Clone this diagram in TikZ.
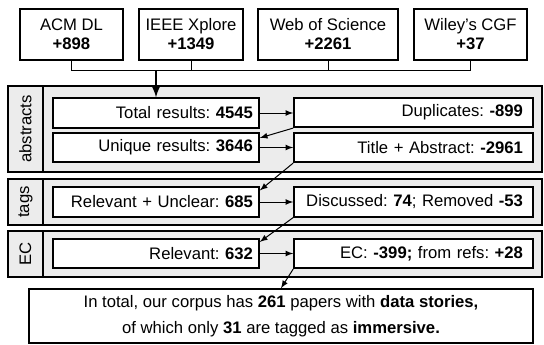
\documentclass[tikz,border=0pt]{standalone}
\usepackage{fontspec}
\setmainfont{Liberation Sans}
\usepackage{tikz}
\usetikzlibrary{shapes,arrows,calc}
\frenchspacing
\definecolor{groupcolor}{RGB}{236,236,236}
\tikzstyle{source} = [draw, line width=0.9pt, fill=white, rectangle, align=center,
    minimum height=30.6pt, font=\fontsize{10}{11.4}\selectfont]
\tikzstyle{group} = [draw, line width=1.1pt, fill=groupcolor, rectangle, minimum width=320.4pt]
\tikzstyle{grouptag} = [draw, line width=1.1pt, fill=groupcolor, rectangle, rotate=90,
    minimum height=21pt, font=\fontsize{10}{12}\selectfont]
\tikzstyle{leftcount} = [draw, line width=1pt, fill=white, rectangle, align=right,
    minimum width=123.6pt, minimum height=17.7pt, inner xsep=3.6pt, text width=116.4pt,
    inner ysep=0pt, font=\fontsize{10}{12}\selectfont]
\tikzstyle{rightcount} = [draw, line width=1pt, fill=white, rectangle, align=right,
    minimum width=143.4pt, minimum height=17.7pt, inner xsep=6pt, text width=131.4pt,
    inner ysep=0pt, font=\fontsize{10}{12}\selectfont]
\tikzstyle{flow} = [-latex, line width=0.6pt]

\begin{document}
\begin{tikzpicture}[x=0.6pt, y=-0.6pt]
\useasboundingbox (0,0) rectangle (544,344);

%% Sources %%
\node [source, minimum width=61.8pt] (ACM) at (71.5,34.5) {ACM DL\\\textbf{+898}};
\node [source, minimum width=62.4pt] (IEEE) at ($(ACM)+(119.5,0)$) {IEEE Xplore\\\textbf{+1349}};
\node [source, minimum width=84pt] (WoS) at ($(IEEE)+(137,0)$) {Web of Science\\\textbf{+2261}};
\node [source, minimum width=67.8pt] (Wiley) at ($(WoS)+(142.5,0)$) {Wiley{\char39}s CGF\\\textbf{+37}};
\coordinate (bus) at (0,70);

%% Groups %%
\node [group, minimum height=51.6pt] (Abstracts) at (275,129) {};
\node [group, minimum height=27.6pt] (Tags) at (275,202) {};
\node [group, minimum height=27.6pt] (EC) at (275,254) {};
\node [grouptag, minimum width=51.6pt] (AbstractsTag) at (25.5,129) {abstracts};
\node [grouptag, minimum width=27.6pt] (TagsTag) at (25.5,202) {tags};
\node [grouptag, minimum width=27.6pt] (ECTag) at (25.5,254) {EC};

%% Counts %%
\node [leftcount] (Total) at (156,113) {Total results: \textbf{4545}};
\node [leftcount] (Unique) at ($(Total)+(0,34.5)$) {Unique results: \textbf{3646}};
\node [leftcount] (Unclear) at ($(Unique)+(0,54.5)$) {Relevant + Unclear: \textbf{685}};
\node [leftcount] (Relevant) at ($(Unclear)+(0,51.5)$) {Relevant: \textbf{632}};
\node [rightcount] (Duplicates) at ($(Total)+(257.5,-0.5)$) {Duplicates: \textbf{-899}};
\node [rightcount] (TitleAbstract) at ($(Unique)+(257.5,0)$) {Title + Abstract: \textbf{-2961}};
\node [rightcount] (Discussed) at ($(Unclear)+(257.5,0)$) {Discussed: \textbf{74}; Removed \textbf{-53}};
\node [rightcount] (Exclusion) at ($(Relevant)+(257.5,0)$) {EC: \textbf{-399;} from refs: \textbf{+28}};

%% Total %%
\node [draw, line width=0.9pt, fill=white, rectangle, align=center, minimum width=302.4pt,
    minimum height=32.4pt, font=\fontsize{10}{15.6}\selectfont] (Corpus) at (281,316)
    {In total, our corpus has \textbf{261} papers with \textbf{data stories,}\\
     of which only \textbf{31} are tagged as \textbf{immersive.}};

%% Forbindelse %%
\draw[line width=0.6pt] (ACM.south) -- (ACM.south |- bus) -| (Wiley.south);
\draw[line width=0.6pt] (IEEE.south) -- (IEEE.south |- bus);
\draw[line width=0.6pt] (WoS.south) -- (WoS.south |- bus);
\draw[-latex, line width=1.2pt] (Total.north |- bus) -- (Total.north);
\draw[flow] (Total) -- (Duplicates.west |- Total);
\draw[flow] (Duplicates.south west) -- ($(Unique.north east)+(0,6)$);
\draw[flow] (Unique) -- (TitleAbstract);
\draw[flow] (TitleAbstract.south west) -- ($(Unclear.north east)+(0,4)$);
\draw[flow] (Unclear) -- (Discussed);
\draw[flow] (Discussed.south west) -- ($(Relevant.north east)+(0,4)$);
\draw[flow] (Relevant) -- (Exclusion);
\draw[flow] (Exclusion.south west) -- (Corpus.north);

\end{tikzpicture}
\end{document}
